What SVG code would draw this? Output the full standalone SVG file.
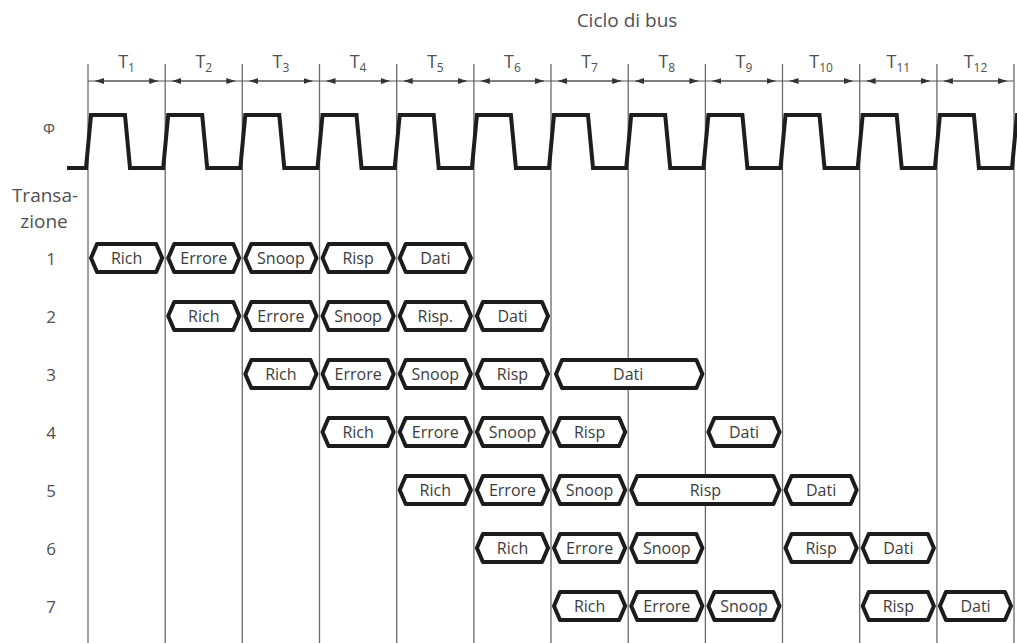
<svg xmlns="http://www.w3.org/2000/svg" width="1017" height="643" viewBox="0 0 1017 643">
<style>
text{font-family:"Open Sans","DejaVu Sans",sans-serif;fill:#505050}
.lbl{font-size:19px;text-anchor:middle}
.num{font-size:17px;text-anchor:middle}
.tl{font-size:18px;text-anchor:middle}
.sub{font-size:12px}
.bx path{fill:#fff;stroke:#1c1c1c;stroke-width:4;stroke-linejoin:round}
.bx text{font-size:16px;text-anchor:middle;fill:#3c3c3c}
.grid line{stroke:#6a6a6a;stroke-width:1.3}
.dim{stroke:#555;stroke-width:1.2;fill:none}
</style>
<defs>
<marker id="ah" markerUnits="userSpaceOnUse" markerWidth="10" markerHeight="6" refX="9" refY="3" orient="auto-start-reverse"><path d="M0,0 L9,3 L0,6 Z" fill="#333"/></marker>
</defs>
<rect width="1017" height="643" fill="#fff"/>
<g id="labels">
<text class="lbl" x="627" y="27">Ciclo di bus</text>
<text x="49" y="134" style="font-size:15px;text-anchor:middle">Φ</text>
<text class="lbl" x="45" y="202">Transa-</text>
<text class="lbl" x="44" y="228">zione</text>
<text class="num" x="51" y="265">1</text>
<text class="num" x="51" y="323">2</text>
<text class="num" x="51" y="381">3</text>
<text class="num" x="51" y="439">4</text>
<text class="num" x="51" y="497">5</text>
<text class="num" x="51" y="555">6</text>
<text class="num" x="51" y="613">7</text>
</g>
<g id="connectors">
<g class="grid">
<line x1="88" y1="64" x2="88" y2="643"/>
<line x1="165.2" y1="64" x2="165.2" y2="643"/>
<line x1="242.3" y1="64" x2="242.3" y2="643"/>
<line x1="319.5" y1="64" x2="319.5" y2="643"/>
<line x1="396.7" y1="64" x2="396.7" y2="643"/>
<line x1="473.9" y1="64" x2="473.9" y2="643"/>
<line x1="551" y1="64" x2="551" y2="643"/>
<line x1="628.2" y1="64" x2="628.2" y2="643"/>
<line x1="705.4" y1="64" x2="705.4" y2="643"/>
<line x1="782.5" y1="64" x2="782.5" y2="643"/>
<line x1="859.7" y1="64" x2="859.7" y2="643"/>
<line x1="936.9" y1="64" x2="936.9" y2="643"/>
<line x1="1014" y1="64" x2="1014" y2="643"/>
</g>
<line class="dim" x1="88" y1="81" x2="1014" y2="81"/>
<g id="periods">
<path class="dim" d="M95,81 H158.2" marker-start="url(#ah)" marker-end="url(#ah)"/>
<path class="dim" d="M172.2,81 H235.3" marker-start="url(#ah)" marker-end="url(#ah)"/>
<path class="dim" d="M249.3,81 H312.5" marker-start="url(#ah)" marker-end="url(#ah)"/>
<path class="dim" d="M326.5,81 H389.7" marker-start="url(#ah)" marker-end="url(#ah)"/>
<path class="dim" d="M403.7,81 H466.9" marker-start="url(#ah)" marker-end="url(#ah)"/>
<path class="dim" d="M480.9,81 H544" marker-start="url(#ah)" marker-end="url(#ah)"/>
<path class="dim" d="M558,81 H621.2" marker-start="url(#ah)" marker-end="url(#ah)"/>
<path class="dim" d="M635.2,81 H698.4" marker-start="url(#ah)" marker-end="url(#ah)"/>
<path class="dim" d="M712.4,81 H775.5" marker-start="url(#ah)" marker-end="url(#ah)"/>
<path class="dim" d="M789.5,81 H852.7" marker-start="url(#ah)" marker-end="url(#ah)"/>
<path class="dim" d="M866.7,81 H929.9" marker-start="url(#ah)" marker-end="url(#ah)"/>
<path class="dim" d="M943.9,81 H1007" marker-start="url(#ah)" marker-end="url(#ah)"/>
</g>
<path id="clock" fill="none" stroke="#1e1e1e" stroke-width="4" stroke-linejoin="miter" d="M67,168 L86,168 L91,115 L125,115 L130,168 L163.2,168 L168.2,115 L202.2,115 L207.2,168 L240.3,168 L245.3,115 L279.3,115 L284.3,168 L317.5,168 L322.5,115 L356.5,115 L361.5,168 L394.7,168 L399.7,115 L433.7,115 L438.7,168 L471.9,168 L476.9,115 L510.9,115 L515.9,168 L549,168 L554,115 L588,115 L593,168 L626.2,168 L631.2,115 L665.2,115 L670.2,168 L703.4,168 L708.4,115 L742.4,115 L747.4,168 L780.5,168 L785.5,115 L819.5,115 L824.5,168 L857.7,168 L862.7,115 L896.7,115 L901.7,168 L934.9,168 L939.9,115 L973.9,115 L978.9,168 L1012,168 L1017,115 L1022,115"/>
</g>
<g id="tlabels">
<text class="tl" x="126.6" y="68">T<tspan class="sub" dy="4">1</tspan></text>
<text class="tl" x="203.8" y="68">T<tspan class="sub" dy="4">2</tspan></text>
<text class="tl" x="280.9" y="68">T<tspan class="sub" dy="4">3</tspan></text>
<text class="tl" x="358.1" y="68">T<tspan class="sub" dy="4">4</tspan></text>
<text class="tl" x="435.3" y="68">T<tspan class="sub" dy="4">5</tspan></text>
<text class="tl" x="512.5" y="68">T<tspan class="sub" dy="4">6</tspan></text>
<text class="tl" x="589.6" y="68">T<tspan class="sub" dy="4">7</tspan></text>
<text class="tl" x="666.8" y="68">T<tspan class="sub" dy="4">8</tspan></text>
<text class="tl" x="744" y="68">T<tspan class="sub" dy="4">9</tspan></text>
<text class="tl" x="821.1" y="68">T<tspan class="sub" dy="4">10</tspan></text>
<text class="tl" x="898.3" y="68">T<tspan class="sub" dy="4">11</tspan></text>
<text class="tl" x="975.5" y="68">T<tspan class="sub" dy="4">12</tspan></text>
</g>
<!-- row 1 cy=258 -->
<g id="r1-rich" class="bx"><path d="M97,244 H156.2 L162.2,258 L156.2,272 H97 L91,258 Z"/><text x="126.6" y="264">Rich</text></g>
<g id="r1-errore" class="bx"><path d="M174.2,244 H233.3 L239.3,258 L233.3,272 H174.2 L168.2,258 Z"/><text x="203.8" y="264">Errore</text></g>
<g id="r1-snoop" class="bx"><path d="M251.3,244 H310.5 L316.5,258 L310.5,272 H251.3 L245.3,258 Z"/><text x="280.9" y="264">Snoop</text></g>
<g id="r1-risp" class="bx"><path d="M328.5,244 H387.7 L393.7,258 L387.7,272 H328.5 L322.5,258 Z"/><text x="358.1" y="264">Risp</text></g>
<g id="r1-dati" class="bx"><path d="M405.7,244 H464.9 L470.9,258 L464.9,272 H405.7 L399.7,258 Z"/><text x="435.3" y="264">Dati</text></g>
<!-- row 2 cy=316 -->
<g id="r2-rich" class="bx"><path d="M174.2,302 H233.3 L239.3,316 L233.3,330 H174.2 L168.2,316 Z"/><text x="203.8" y="322">Rich</text></g>
<g id="r2-errore" class="bx"><path d="M251.3,302 H310.5 L316.5,316 L310.5,330 H251.3 L245.3,316 Z"/><text x="280.9" y="322">Errore</text></g>
<g id="r2-snoop" class="bx"><path d="M328.5,302 H387.7 L393.7,316 L387.7,330 H328.5 L322.5,316 Z"/><text x="358.1" y="322">Snoop</text></g>
<g id="r2-risp" class="bx"><path d="M405.7,302 H464.9 L470.9,316 L464.9,330 H405.7 L399.7,316 Z"/><text x="435.3" y="322">Risp.</text></g>
<g id="r2-dati" class="bx"><path d="M482.9,302 H542 L548,316 L542,330 H482.9 L476.9,316 Z"/><text x="512.5" y="322">Dati</text></g>
<!-- row 3 cy=374 -->
<g id="r3-rich" class="bx"><path d="M251.3,360 H310.5 L316.5,374 L310.5,388 H251.3 L245.3,374 Z"/><text x="280.9" y="380">Rich</text></g>
<g id="r3-errore" class="bx"><path d="M328.5,360 H387.7 L393.7,374 L387.7,388 H328.5 L322.5,374 Z"/><text x="358.1" y="380">Errore</text></g>
<g id="r3-snoop" class="bx"><path d="M405.7,360 H464.9 L470.9,374 L464.9,388 H405.7 L399.7,374 Z"/><text x="435.3" y="380">Snoop</text></g>
<g id="r3-risp" class="bx"><path d="M482.9,360 H542 L548,374 L542,388 H482.9 L476.9,374 Z"/><text x="512.5" y="380">Risp</text></g>
<g id="r3-dati" class="bx"><path d="M562,360 H696.4 L702.4,374 L696.4,388 H562 L556,374 Z"/><text x="628.2" y="380">Dati</text></g>
<!-- row 4 cy=432 -->
<g id="r4-rich" class="bx"><path d="M328.5,418 H387.7 L393.7,432 L387.7,446 H328.5 L322.5,432 Z"/><text x="358.1" y="438">Rich</text></g>
<g id="r4-errore" class="bx"><path d="M405.7,418 H464.9 L470.9,432 L464.9,446 H405.7 L399.7,432 Z"/><text x="435.3" y="438">Errore</text></g>
<g id="r4-snoop" class="bx"><path d="M482.9,418 H542 L548,432 L542,446 H482.9 L476.9,432 Z"/><text x="512.5" y="438">Snoop</text></g>
<g id="r4-risp" class="bx"><path d="M560,418 H619.2 L625.2,432 L619.2,446 H560 L554,432 Z"/><text x="589.6" y="438">Risp</text></g>
<g id="r4-dati" class="bx"><path d="M714.4,418 H773.5 L779.5,432 L773.5,446 H714.4 L708.4,432 Z"/><text x="744" y="438">Dati</text></g>
<!-- row 5 cy=490 -->
<g id="r5-rich" class="bx"><path d="M405.7,476 H464.9 L470.9,490 L464.9,504 H405.7 L399.7,490 Z"/><text x="435.3" y="496">Rich</text></g>
<g id="r5-errore" class="bx"><path d="M482.9,476 H542 L548,490 L542,504 H482.9 L476.9,490 Z"/><text x="512.5" y="496">Errore</text></g>
<g id="r5-snoop" class="bx"><path d="M560,476 H619.2 L625.2,490 L619.2,504 H560 L554,490 Z"/><text x="589.6" y="496">Snoop</text></g>
<g id="r5-risp" class="bx"><path d="M637.2,476 H773.5 L779.5,490 L773.5,504 H637.2 L631.2,490 Z"/><text x="705.4" y="496">Risp</text></g>
<g id="r5-dati" class="bx"><path d="M791.5,476 H850.7 L856.7,490 L850.7,504 H791.5 L785.5,490 Z"/><text x="821.1" y="496">Dati</text></g>
<!-- row 6 cy=548 -->
<g id="r6-rich" class="bx"><path d="M482.9,534 H542 L548,548 L542,562 H482.9 L476.9,548 Z"/><text x="512.5" y="554">Rich</text></g>
<g id="r6-errore" class="bx"><path d="M560,534 H619.2 L625.2,548 L619.2,562 H560 L554,548 Z"/><text x="589.6" y="554">Errore</text></g>
<g id="r6-snoop" class="bx"><path d="M637.2,534 H696.4 L702.4,548 L696.4,562 H637.2 L631.2,548 Z"/><text x="666.8" y="554">Snoop</text></g>
<g id="r6-risp" class="bx"><path d="M791.5,534 H850.7 L856.7,548 L850.7,562 H791.5 L785.5,548 Z"/><text x="821.1" y="554">Risp</text></g>
<g id="r6-dati" class="bx"><path d="M868.7,534 H927.9 L933.9,548 L927.9,562 H868.7 L862.7,548 Z"/><text x="898.3" y="554">Dati</text></g>
<!-- row 7 cy=606 -->
<g id="r7-rich" class="bx"><path d="M560,592 H619.2 L625.2,606 L619.2,620 H560 L554,606 Z"/><text x="589.6" y="612">Rich</text></g>
<g id="r7-errore" class="bx"><path d="M637.2,592 H696.4 L702.4,606 L696.4,620 H637.2 L631.2,606 Z"/><text x="666.8" y="612">Errore</text></g>
<g id="r7-snoop" class="bx"><path d="M714.4,592 H773.5 L779.5,606 L773.5,620 H714.4 L708.4,606 Z"/><text x="744" y="612">Snoop</text></g>
<g id="r7-risp" class="bx"><path d="M868.7,592 H927.9 L933.9,606 L927.9,620 H868.7 L862.7,606 Z"/><text x="898.3" y="612">Risp</text></g>
<g id="r7-dati" class="bx"><path d="M945.9,592 H1005 L1011,606 L1005,620 H945.9 L939.9,606 Z"/><text x="975.5" y="612">Dati</text></g>
</svg>
